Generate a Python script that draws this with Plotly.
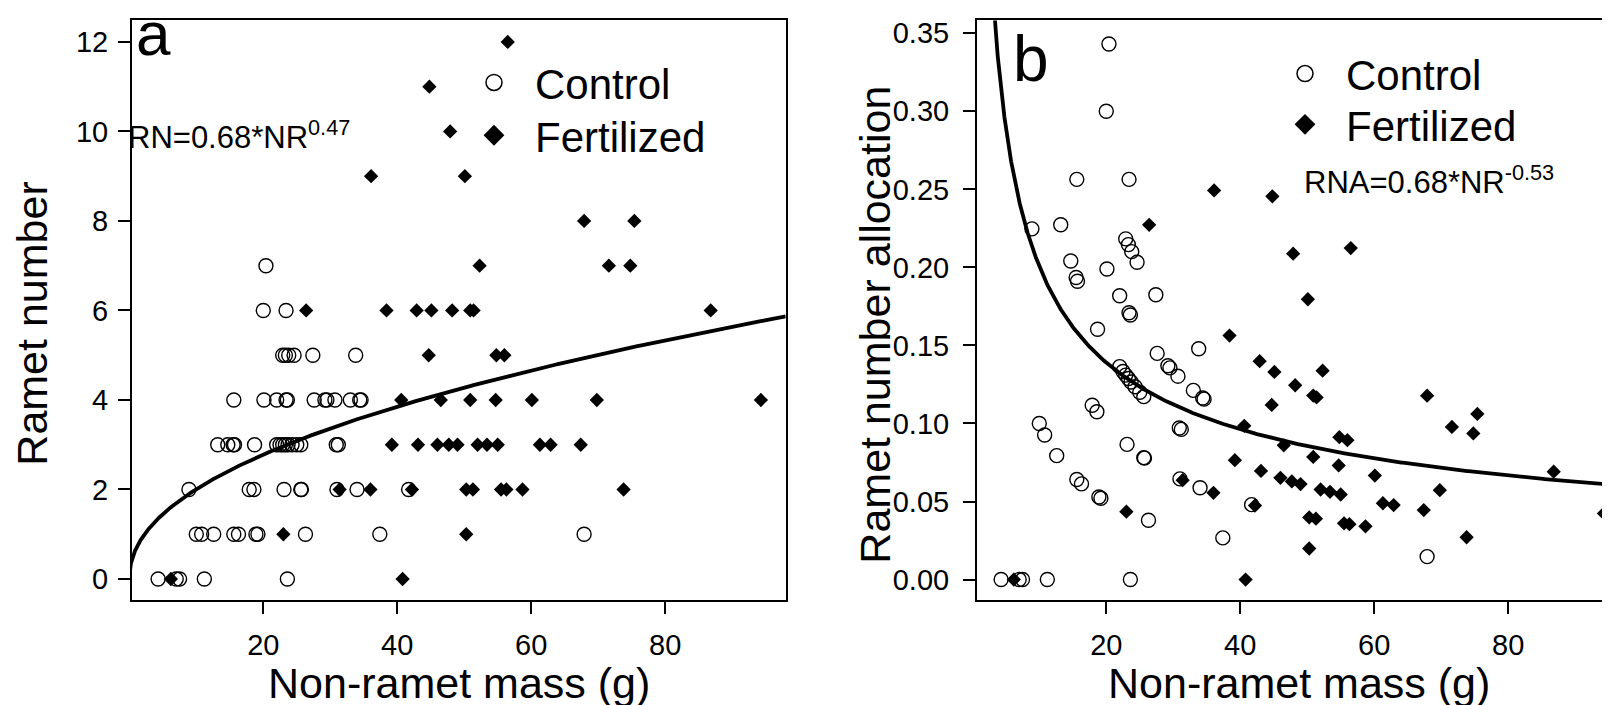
import numpy as np
import plotly.graph_objects as go

# ---------------- data ----------------
# Panel a: non-ramet mass (g) and ramet number
ctrl_mass = [4.3, 7.0, 7.5, 11.2, 23.6,
             10.0, 10.8, 12.6, 15.6, 16.3, 18.9, 19.2, 26.3, 37.4, 67.9,
             8.9, 17.9, 18.6, 23.1, 25.6, 25.7, 31.0, 34.0, 41.7,
             13.2, 14.7, 15.5, 15.7, 18.7, 22.0, 22.5, 22.9, 23.3, 23.7, 24.3, 25.0, 25.6, 30.9, 31.2,
             15.6, 20.1, 22.0, 23.4, 23.6, 27.6, 29.2, 29.5, 30.7, 33.0, 34.4, 34.6,
             22.9, 23.3, 23.8, 24.6, 27.4, 33.8,
             20.0, 23.4,
             20.4]
ctrl_rn = [0, 0, 0, 0, 0,
           1, 1, 1, 1, 1, 1, 1, 1, 1, 1,
           2, 2, 2, 2, 2, 2, 2, 2, 2,
           3, 3, 3, 3, 3, 3, 3, 3, 3, 3, 3, 3, 3, 3, 3,
           4, 4, 4, 4, 4, 4, 4, 4, 4, 4, 4, 4,
           5, 5, 5, 5, 5, 5,
           6, 6,
           7]
fert_mass = [6.2, 40.8,
             23.0, 50.3,
             31.4, 36.0, 42.2, 50.3, 51.3, 55.5, 56.3, 58.7, 73.8,
             39.2, 43.1, 46.0, 47.7, 49.0, 52.0, 53.4, 55.0, 61.3, 62.9, 67.4,
             40.6, 46.5, 50.9, 54.7, 60.1, 69.8, 94.3,
             44.7, 54.8, 56.0,
             26.4, 38.4, 42.9, 45.1, 48.2, 50.9, 51.4, 86.8,
             52.3, 71.6, 74.8,
             67.9, 75.4,
             36.1, 50.1,
             47.9,
             44.8,
             56.5]
fert_rn = [0, 0,
           1, 1,
           2, 2, 2, 2, 2, 2, 2, 2, 2,
           3, 3, 3, 3, 3, 3, 3, 3, 3, 3, 3,
           4, 4, 4, 4, 4, 4, 4,
           5, 5, 5,
           6, 6, 6, 6, 6, 6, 6, 6,
           7, 7, 7,
           8, 8,
           9, 9,
           10,
           11,
           12]

# Panel b: ramet number allocation (same plants, same masses)
ctrl_rna = [0, 0, 0, 0, 0,
            0.100, 0.0926, 0.0794, 0.0641, 0.0613, 0.0529, 0.0521, 0.0380, 0.0267, 0.0147,
            0.2247, 0.1117, 0.1075, 0.0866, 0.0781, 0.0778, 0.0645, 0.0588, 0.0480,
            0.2273, 0.2041, 0.1935, 0.1911, 0.1604, 0.1364, 0.1333, 0.1310, 0.1288, 0.1266, 0.1235, 0.1200, 0.1172, 0.0971, 0.0962,
            0.2564, 0.1990, 0.1818, 0.1709, 0.1695, 0.1449, 0.1370, 0.1356, 0.1303, 0.1212, 0.1163, 0.1156,
            0.2183, 0.2146, 0.2101, 0.2033, 0.1825, 0.1479,
            0.300, 0.2564,
            0.3431]
fert_rna = [0, 0,
            0.0435, 0.0199,
            0.0637, 0.0556, 0.0474, 0.0398, 0.0390, 0.0360, 0.0355, 0.0341, 0.0271,
            0.0765, 0.0696, 0.0652, 0.0629, 0.0612, 0.0577, 0.0562, 0.0545, 0.0489, 0.0477, 0.0445,
            0.0985, 0.0860, 0.0786, 0.0731, 0.0666, 0.0573, 0.0424,
            0.1119, 0.0912, 0.0893,
            0.2273, 0.1563, 0.1399, 0.1330, 0.1245, 0.1179, 0.1167, 0.0691,
            0.1338, 0.0978, 0.0936,
            0.1178, 0.1061,
            0.2493, 0.1796,
            0.2088,
            0.2455,
            0.2124]

# fitted power laws shown in the panels
fit_a = (0.68, 0.47)
fit_b = (0.68, -0.53)

xticks = [20, 40, 60, 80]
yticks_a = [0, 2, 4, 6, 8, 10, 12]
yticks_b = [0.00, 0.05, 0.10, 0.15, 0.20, 0.25, 0.30, 0.35]

FONT = "Liberation Sans, Arial, sans-serif"
W, H = 1610, 705

fig = go.Figure()

xa = np.concatenate([np.linspace(0.01, 5, 300), np.linspace(5, 98, 400)])
fig.add_trace(go.Scatter(x=xa, y=fit_a[0] * xa ** fit_a[1], mode="lines",
                         line=dict(color="black", width=3.8), showlegend=False,
                         xaxis="x", yaxis="y"))
xb = np.concatenate([np.linspace(3.0, 10, 200), np.linspace(10, 97, 400)])
fig.add_trace(go.Scatter(x=xb, y=fit_b[0] * xb ** fit_b[1], mode="lines",
                         line=dict(color="black", width=3.8), showlegend=False,
                         xaxis="x2", yaxis="y2"))

circ = dict(symbol="circle-open", size=14, color="black", line=dict(color="black", width=1.4))
diam = dict(symbol="diamond", size=11, color="black", line=dict(width=0))

fig.add_trace(go.Scatter(x=ctrl_mass, y=ctrl_rn, mode="markers", marker=circ,
                         showlegend=False, xaxis="x", yaxis="y"))
fig.add_trace(go.Scatter(x=fert_mass, y=fert_rn, mode="markers", marker=diam,
                         showlegend=False, xaxis="x", yaxis="y"))
fig.add_trace(go.Scatter(x=ctrl_mass, y=ctrl_rna, mode="markers", marker=circ,
                         showlegend=False, xaxis="x2", yaxis="y2"))
fig.add_trace(go.Scatter(x=fert_mass, y=fert_rna, mode="markers", marker=diam,
                         showlegend=False, xaxis="x2", yaxis="y2"))

# legend entries (no data points)
leg_c = dict(symbol="circle-open", size=16, color="black", line=dict(color="black", width=1.5))
leg_d = dict(symbol="diamond", size=16, color="black", line=dict(width=0))
for lg, name, mk, xa_, ya_ in (("legend", "Control", leg_c, "x", "y"),
                                ("legend2", "Fertilized", leg_d, "x", "y"),
                                ("legend3", "Control", leg_c, "x2", "y2"),
                                ("legend4", "Fertilized", leg_d, "x2", "y2")):
    fig.add_trace(go.Scatter(x=[None], y=[None], mode="markers", marker=mk, name=name,
                             legend=lg, xaxis=xa_, yaxis=ya_))

def px_x(p):
    return p / W

def px_y(p):
    return 1 - p / H

axis_common = dict(showline=True, linecolor="black", linewidth=2, ticks="outside",
                   ticklen=12, tickwidth=1.5, tickcolor="black", showgrid=False,
                   zeroline=False, tickfont=dict(family=FONT, size=29, color="black"))

def legend_at(xp, yp):
    return dict(x=px_x(xp), y=px_y(yp), xanchor="left", yanchor="middle",
                font=dict(family=FONT, size=42, color="black"), itemwidth=72,
                bgcolor="rgba(0,0,0,0)", itemsizing="trace")

fig.update_layout(
    width=W, height=H, autosize=False,
    margin=dict(l=0, r=0, t=0, b=0),
    paper_bgcolor="white", plot_bgcolor="white",
    font=dict(family=FONT, color="black"),
    xaxis=dict(domain=[px_x(124), px_x(777.7)], range=[0.4, 98.0], tickvals=xticks,
               mirror=True, anchor="y", ticklabelstandoff=6, **axis_common),
    yaxis=dict(domain=[px_y(592), px_y(9.5)], range=[-0.48, 12.48], tickvals=yticks_a,
               mirror=True, anchor="x", ticklabelstandoff=4, **axis_common),
    xaxis2=dict(domain=[px_x(969), 1.0], range=[0.7, 96.4], tickvals=xticks,
                mirror=True, anchor="y2", ticklabelstandoff=6, **axis_common),
    yaxis2=dict(domain=[px_y(592), px_y(9.5)], range=[-0.0134, 0.3582], tickvals=yticks_b,
                tickformat=".2f", mirror=False, anchor="x2", ticklabelstandoff=8, **axis_common),
    legend=legend_at(445, 72),
    legend2=legend_at(445, 125),
    legend3=legend_at(1256, 63),
    legend4=legend_at(1256, 114),
)

TITLE = dict(family=FONT, size=43, color="black")
ann = []
ann.append(dict(text="Non-ramet mass (g)", x=(px_x(124) + px_x(777.7)) / 2, y=px_y(675),
                xref="paper", yref="paper", showarrow=False, height=48, valign="middle",
                font=TITLE, xanchor="center", yanchor="middle"))
ann.append(dict(text="Non-ramet mass (g)", x=px_x(1291), y=px_y(675),
                xref="paper", yref="paper", showarrow=False, height=48, valign="middle",
                font=TITLE, xanchor="center", yanchor="middle"))
ann.append(dict(text="Ramet number", x=px_x(24), y=px_y(314), textangle=-90,
                xref="paper", yref="paper", showarrow=False,
                font=TITLE, xanchor="center", yanchor="middle"))
ann.append(dict(text="Ramet number allocation", x=px_x(867), y=px_y(315), textangle=-90,
                xref="paper", yref="paper", showarrow=False,
                font=TITLE, xanchor="center", yanchor="middle"))
ann.append(dict(text="a", x=px_x(126), y=px_y(59), xref="paper", yref="paper", showarrow=False,
                height=56, valign="bottom",
                font=dict(family=FONT, size=62, color="black"), xanchor="left", yanchor="bottom"))
ann.append(dict(text="b", x=px_x(1003), y=px_y(86), xref="paper", yref="paper", showarrow=False,
                font=dict(family=FONT, size=64, color="black"), xanchor="left", yanchor="bottom"))
ann.append(dict(text="RN=0.68*NR<sup>0.47</sup>", x=px_x(118), y=px_y(125),
                xref="paper", yref="paper", showarrow=False,
                font=dict(family=FONT, size=31, color="black"), xanchor="left", yanchor="middle"))
ann.append(dict(text="RNA=0.68*NR<sup>-0.53</sup>", x=px_x(1294), y=px_y(170),
                xref="paper", yref="paper", showarrow=False,
                font=dict(family=FONT, size=31, color="black"), xanchor="left", yanchor="middle"))
fig.update_layout(annotations=ann)

fig.write_html("out.html")
